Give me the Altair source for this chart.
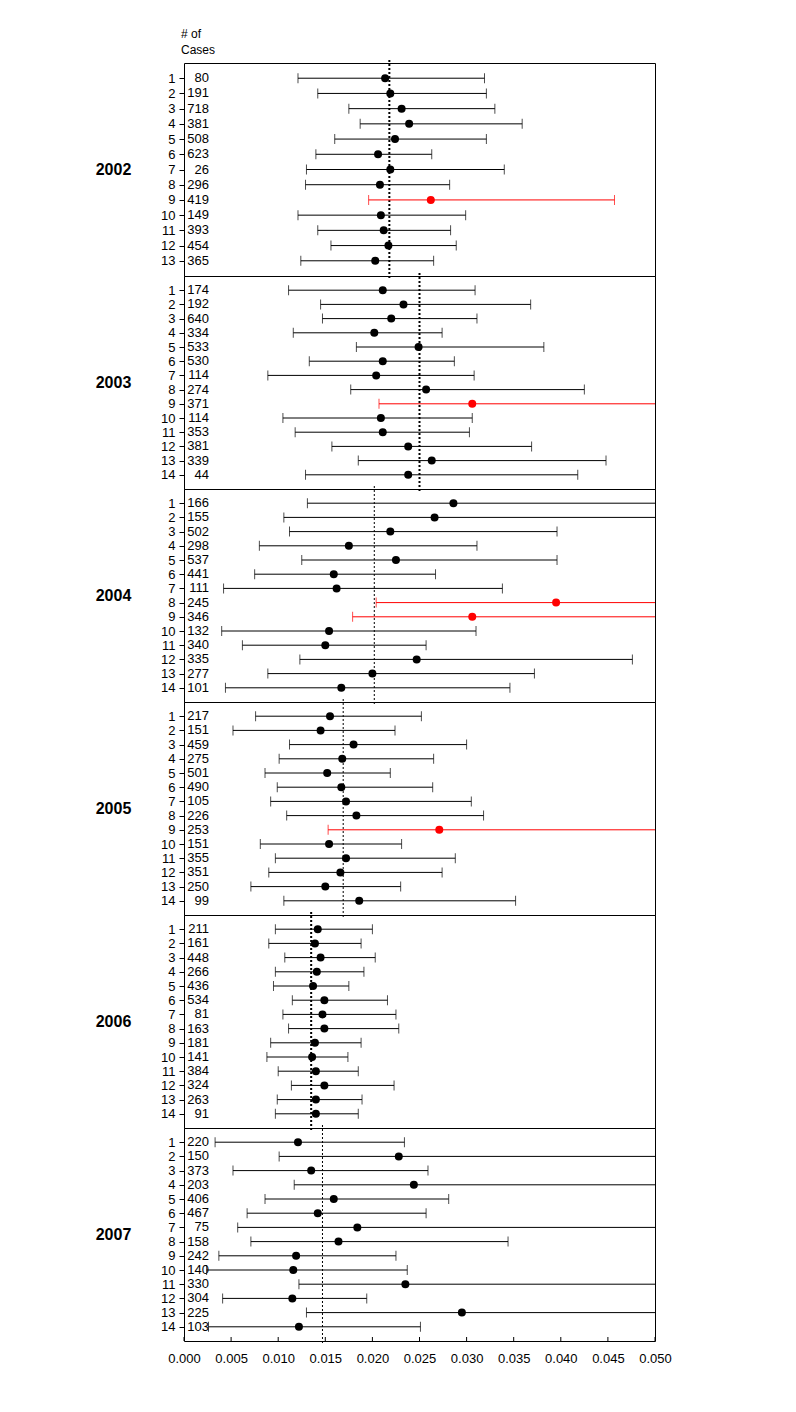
import altair as alt
import pandas as pd

# ---------------- data ----------------
years = [2002, 2003, 2004, 2005, 2006, 2007]

cases_2002 = [80, 191, 718, 381, 508, 623, 26, 296, 419, 149, 393, 454, 365]
est_2002 = [.02135, .0219, .0231, .0239, .0224, .0206, .0219, .0208, .0262, .0209, .0212, .0217, .0203]
lo_2002 = [.0121, .0142, .0175, .0187, .0160, .0140, .0130, .0129, .0196, .0121, .0142, .0156, .0124]
hi_2002 = [.0319, .0321, .0330, .0359, .0321, .0263, .0340, .0282, .0457, .0299, .0283, .0289, .0265]
mean_2002 = .0218
red_2002 = [9]

cases_2003 = [174, 192, 640, 334, 533, 530, 114, 274, 371, 114, 353, 381, 339, 44]
est_2003 = [.0211, .0233, .0220, .0202, .0249, .0211, .0204, .0257, .0306, .0209, .0211, .0238, .0263, .0238]
lo_2003 = [.0111, .0145, .0147, .0116, .0183, .0133, .0089, .0177, .0207, .0105, .0118, .0157, .0185, .0129]
hi_2003 = [.0309, .0368, .0311, .0274, .0382, .0287, .0308, .0425, None, .0306, .0303, .0369, .0448, .0418]
mean_2003 = .0250
red_2003 = [9]

cases_2004 = [166, 155, 502, 298, 537, 441, 111, 245, 346, 132, 340, 335, 277, 101]
est_2004 = [.0286, .0266, .0219, .0175, .0225, .0159, .0162, .0395, .0306, .0154, .0150, .0247, .0200, .0167]
lo_2004 = [.0131, .0106, .0112, .0080, .0125, .0075, .0042, .0204, .0179, .0040, .0062, .0123, .0089, .0044]
hi_2004 = [None, None, .0396, .0311, .0396, .0267, .0338, None, None, .0310, .0257, .0476, .0372, .0346]
mean_2004 = .0202
red_2004 = [8, 9]

cases_2005 = [217, 151, 459, 275, 501, 490, 105, 226, 253, 151, 355, 351, 250, 99]
est_2005 = [.0155, .0145, .0180, .0168, .0152, .0167, .0172, .0183, .0271, .0154, .0172, .0166, .0150, .0186]
lo_2005 = [.0076, .0052, .0112, .0101, .0086, .0099, .0092, .0109, .0153, .0081, .0097, .0090, .0071, .0106]
hi_2005 = [.0252, .0224, .0300, .0265, .0219, .0264, .0305, .0318, None, .0231, .0288, .0274, .0230, .0352]
mean_2005 = .0169
red_2005 = [9]

cases_2006 = [211, 161, 448, 266, 436, 534, 81, 163, 181, 141, 384, 324, 263, 91]
est_2006 = [.0142, .0139, .0145, .0141, .0137, .0149, .0147, .0149, .0139, .0136, .0140, .0149, .0140, .0140]
lo_2006 = [.0097, .0090, .0107, .0097, .0095, .0115, .0105, .0111, .0092, .0088, .0100, .0114, .0099, .0097]
hi_2006 = [.0200, .0188, .0203, .0191, .0175, .0216, .0225, .0228, .0188, .0174, .0185, .0223, .0189, .0185]
mean_2006 = .0135
red_2006 = []

cases_2007 = [220, 150, 373, 203, 406, 467, 75, 158, 242, 140, 330, 304, 225, 103]
est_2007 = [.0121, .0228, .0135, .0244, .0159, .0142, .0184, .0164, .0119, .0116, .0235, .0115, .0295, .0122]
lo_2007 = [.0033, .0101, .0052, .0117, .0086, .0067, .0057, .0071, .0037, .0024, .0122, .0041, .0130, .0026]
hi_2007 = [.0234, None, .0259, None, .0281, .0257, None, .0344, .0225, .0237, None, .0194, None, .0251]
mean_2007 = .0147
red_2007 = []

x_ticks = [0.000, 0.005, 0.010, 0.015, 0.020, 0.025, 0.030, 0.035, 0.040, 0.045, 0.050]
x_domain = [0.0, 0.05]

# ---------------- styling ----------------
W, H = 471, 213
FONT = "Liberation Sans"
mean_style = {2002: (2, [2, 2]), 2003: (2, [2, 2]), 2004: (1, [2, 2]),
              2005: (1, [2, 2]), 2006: (2, [2, 2]), 2007: (1, [2, 2])}

series = {
    2002: (cases_2002, est_2002, lo_2002, hi_2002, mean_2002, red_2002),
    2003: (cases_2003, est_2003, lo_2003, hi_2003, mean_2003, red_2003),
    2004: (cases_2004, est_2004, lo_2004, hi_2004, mean_2004, red_2004),
    2005: (cases_2005, est_2005, lo_2005, hi_2005, mean_2005, red_2005),
    2006: (cases_2006, est_2006, lo_2006, hi_2006, mean_2006, red_2006),
    2007: (cases_2007, est_2007, lo_2007, hi_2007, mean_2007, red_2007),
}


def panel(idx, year):
    cases, est, lo, hi, mean, red = series[year]
    n = len(cases)
    rows = list(range(1, n + 1))
    df = pd.DataFrame({
        "row": rows,
        "cases": cases,
        "est": est,
        "lo": lo,
        "hi_draw": [h if h is not None else x_domain[1] for h in hi],
        "hi_cap": [h if h is not None else float("nan") for h in hi],
        "col": ["#ff0000" if r in red else "black" for r in rows],
    })
    last = idx == len(years) - 1
    xscale = alt.Scale(domain=x_domain, nice=False, zero=False)
    if last:
        xaxis = alt.Axis(values=x_ticks, format=".3f", ticks=False, domain=False,
                         grid=False, labelPadding=11, labelFontSize=13,
                         labelOverlap=False, labelBound=False, labelFlush=False,
                         labelFont=FONT, labelColor="black", title=None)
    else:
        xaxis = None
    yscale = alt.Scale(domain=[0, n + 1], reverse=True, nice=False, zero=False)
    yaxis = alt.Axis(values=rows, format="d", grid=False, domain=False,
                     tickSize=5, tickColor="black", labelPadding=4,
                     labelFontSize=13, labelFont=FONT, labelColor="black",
                     labelOverlap=False,
                     title=str(year), titleAngle=0, titleX=-71, titleY=H / 2,
                     titleAlign="center", titleBaseline="middle",
                     titleFontSize=16, titleFontWeight="bold", titleFont=FONT,
                     titleColor="black")
    Y = alt.Y("row:Q", scale=yscale, axis=yaxis)
    C = alt.Color("col:N", scale=None)

    def X(field):
        return alt.X(field, scale=xscale, axis=xaxis, title=None)

    base = alt.Chart(df)
    line = base.mark_rule(strokeWidth=1, clip=True).encode(x=X("lo:Q"), x2="hi_draw:Q", y=Y, color=C)
    cap_lo = base.mark_tick(orient="vertical", size=10, thickness=1).encode(x=X("lo:Q"), y=Y, color=C)
    cap_hi = base.transform_filter("isValid(datum.hi_cap) && isFinite(datum.hi_cap)").mark_tick(
        orient="vertical", size=10, thickness=1).encode(x=X("hi_cap:Q"), y=Y, color=C)
    pts = base.mark_circle(size=64, opacity=1).encode(x=X("est:Q"), y=Y, color=C)
    txt = base.mark_text(align="right", baseline="middle", fontSize=13, font=FONT, color="black").encode(
        x=alt.value(25), y=Y, text="cases:Q")
    sw, dash = mean_style[year]
    mline = alt.Chart(pd.DataFrame({"mean": [mean]})).mark_rule(
        color="black", strokeWidth=sw, strokeDash=dash).encode(
        x=X("mean:Q"), y=alt.value(-3), y2=alt.value(H + 3))
    layers = [mline, line, cap_lo, cap_hi, pts, txt]
    if idx == 0:
        hdr = alt.Chart(pd.DataFrame({"t": ["# of\nCases"]})).mark_text(
            align="left", baseline="top", fontSize=12, font=FONT, lineBreak="\n",
            lineHeight=16, color="black").encode(
            x=alt.value(-3), y=alt.value(-34), text="t:N")
        layers.append(hdr)
    if last:
        tk = alt.Chart(pd.DataFrame({"t": x_ticks})).mark_rule(color="black", strokeWidth=1).encode(
            x=X("t:Q"), y=alt.value(H - 4), y2=alt.value(H))
        layers.append(tk)
    return alt.layer(*layers).properties(width=W, height=H)


chart = alt.vconcat(*[panel(i, y) for i, y in enumerate(years)], spacing=0, bounds="flush").properties(
    padding={"left": 86, "top": 19, "right": 5, "bottom": 5},
    background="white",
).configure_view(stroke="black", strokeWidth=1)

chart.save("out.html", embed_options={"renderer": "svg", "actions": False})
